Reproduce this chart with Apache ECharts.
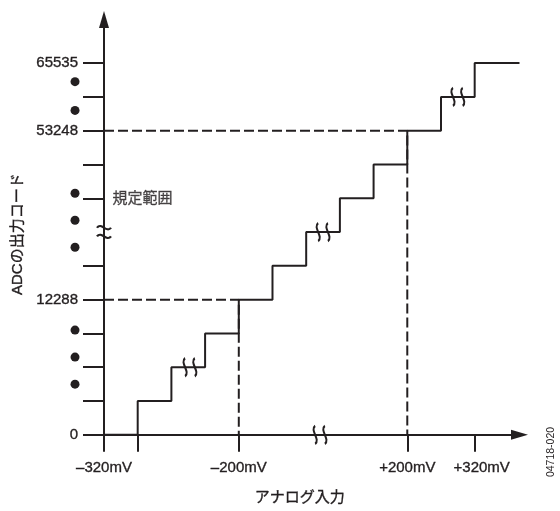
<!DOCTYPE html>
<html>
<head>
<meta charset="utf-8">
<script src="https://cdn.jsdelivr.net/npm/echarts@6/dist/echarts.min.js"></script>
<style>
  html, body { margin: 0; padding: 0; background: #fff; }
  #chart { width: 560px; height: 511px; }
</style>
</head>
<body>
<div id="chart"></div>
<script>
// Vertical axis: output codes, one unit per code step drawn
const codeTickSteps = [0, 4, 9, 11];
const codeTickLabels = ['0', '12288', '53248', '65535'];
const codeTickMarks = [0, 1, 2, 3, 4, 5, 7, 8, 9, 10, 11];

// Horizontal axis: analog input, one unit per LSB step drawn
const inputTickSteps = [0, 4, 9, 11];
const inputTickLabels = ['–320mV', '–200mV', '+200mV', '+320mV'];
const inputTickMarks = [0, 1, 4, 9, 11];

// Transfer staircase: input position of each code transition and the code reached
const transitionInputs = [0, 1, 2, 3, 4, 5, 6, 7, 8, 9, 10, 11, 12.33];
const outputCodes = [0, 1, 2, 3, 4, 5, 6, 7, 8, 9, 10, 11, 11];

// Codes bounding the specified range (dashed guides)
const rangeLimitSteps = [4, 9];

// Ellipsis dots beside the code axis
const ellipsisLevels = [10.45, 9.6, 7.15, 6.35, 5.55, 3.1, 2.3, 1.5];

// Break marks on the staircase and the input axis
const stairBreaks = [[2.55, 2], [6.5, 6], [10.5, 10], [6.41, 0]];
// Break mark on the code axis
const codeAxisBreaks = [[0, 6]];

const INK = '#231f20';
const FONT = "'Liberation Sans', 'Noto Sans CJK JP', Arial, sans-serif";
const X_MAX = 12.33;
const Y_MAX = 12.29;

// Slightly heavier text, like the print face
const inkText = { fontSize: 15, fontFamily: FONT, color: INK, textBorderColor: INK, textBorderWidth: 0.35 };

const vBreakPath = 'path://M3,0 C-0.5,4 6.5,12 3,16 M9,0 C5.5,4 12.5,12 9,16';
const hBreakPath = 'path://M0,3 C4,-1 8,7 12,3 M0,9 C4,5 8,13 12,9';

const chart = echarts.init(document.getElementById('chart'), null, { renderer: 'canvas' });

const stairData = transitionInputs.map((x, i) => [x, outputCodes[i]]);

const guideSeries = rangeLimitSteps.map(s => ({
  type: 'line',
  data: [[0, s], [s, s], [s, 0]],
  showSymbol: false,
  silent: true,
  z: 2,
  lineStyle: { color: INK, width: 2, type: [10, 4] }
}));

const option = {
  animation: false,
  backgroundColor: '#fff',
  textStyle: { fontFamily: FONT, color: INK },
  grid: { left: 104, right: 40.5, top: 19.5, bottom: 75, containLabel: false },
  xAxis: {
    type: 'value',
    min: 0,
    max: X_MAX,
    splitLine: { show: false },
    axisLine: {
      show: true,
      symbol: ['none', 'triangle'],
      symbolSize: [10, 17],
      lineStyle: { color: INK, width: 2 }
    },
    axisTick: {
      show: true,
      length: 17,
      customValues: inputTickMarks,
      lineStyle: { color: INK, width: 2 }
    },
    axisLabel: Object.assign({
      show: true,
      customValues: inputTickSteps,
      margin: 26,
      formatter: v => {
        const i = inputTickSteps.indexOf(v);
        if (i < 0) return '';
        return i === inputTickSteps.length - 1 ? '{r|' + inputTickLabels[i] + '}' : inputTickLabels[i];
      },
      rich: { r: Object.assign({ padding: [0, 0, 0, 14] }, inkText) }
    }, inkText),
    name: 'アナログ入力',
    nameLocation: 'middle',
    nameGap: 56,
    nameTextStyle: Object.assign({ padding: [0, 24, 0, 0] }, inkText)
  },
  yAxis: {
    type: 'value',
    min: 0,
    max: Y_MAX,
    splitLine: { show: false },
    axisLine: {
      show: true,
      symbol: ['none', 'triangle'],
      symbolSize: [10, 17],
      lineStyle: { color: INK, width: 2 }
    },
    axisTick: {
      show: true,
      length: 21,
      customValues: codeTickMarks,
      lineStyle: { color: INK, width: 2 }
    },
    axisLabel: Object.assign({
      show: true,
      customValues: codeTickSteps,
      margin: 26,
      formatter: v => {
        const i = codeTickSteps.indexOf(v);
        return i < 0 ? '' : codeTickLabels[i];
      }
    }, inkText),
    name: 'ADCの出力コード',
    nameLocation: 'middle',
    nameGap: 75,
    nameTextStyle: Object.assign({ padding: [0, 14, 0, 0] }, inkText)
  },
  series: [
    ...guideSeries,
    {
      type: 'line',
      step: 'end',
      data: stairData,
      showSymbol: false,
      silent: true,
      z: 3,
      lineStyle: { color: INK, width: 2 }
    },
    {
      type: 'scatter',
      data: ellipsisLevels.map(y => [-0.86, y]),
      clip: false,
      symbol: 'circle',
      symbolSize: 9,
      silent: true,
      itemStyle: { color: INK, opacity: 1 }
    },
    {
      type: 'scatter',
      data: stairBreaks,
      clip: false,
      symbol: vBreakPath,
      symbolSize: [13, 18],
      silent: true,
      z: 4,
      itemStyle: { color: 'none', borderColor: INK, borderWidth: 2.3, opacity: 1 }
    },
    {
      type: 'scatter',
      data: codeAxisBreaks,
      clip: false,
      symbol: hBreakPath,
      symbolSize: [14, 12],
      silent: true,
      z: 4,
      itemStyle: { color: 'none', borderColor: INK, borderWidth: 2.2, opacity: 1 }
    },
    {
      type: 'scatter',
      data: [[0, 7]],
      clip: false,
      symbol: 'circle',
      symbolSize: 1,
      silent: true,
      itemStyle: { color: 'rgba(0,0,0,0)' },
      label: Object.assign({
        show: true,
        position: 'right',
        distance: 8,
        offset: [0, 1],
        formatter: '規定範囲'
      }, inkText)
    }
  ],
  graphic: [
    {
      type: 'text',
      x: 551,
      y: 452,
      rotation: Math.PI / 2,
      style: {
        text: '04718-020',
        fontSize: 10.5,
        fontFamily: FONT,
        fill: INK,
        align: 'center',
        verticalAlign: 'middle'
      }
    }
  ]
};

chart.setOption(option);
</script>
</body>
</html>
